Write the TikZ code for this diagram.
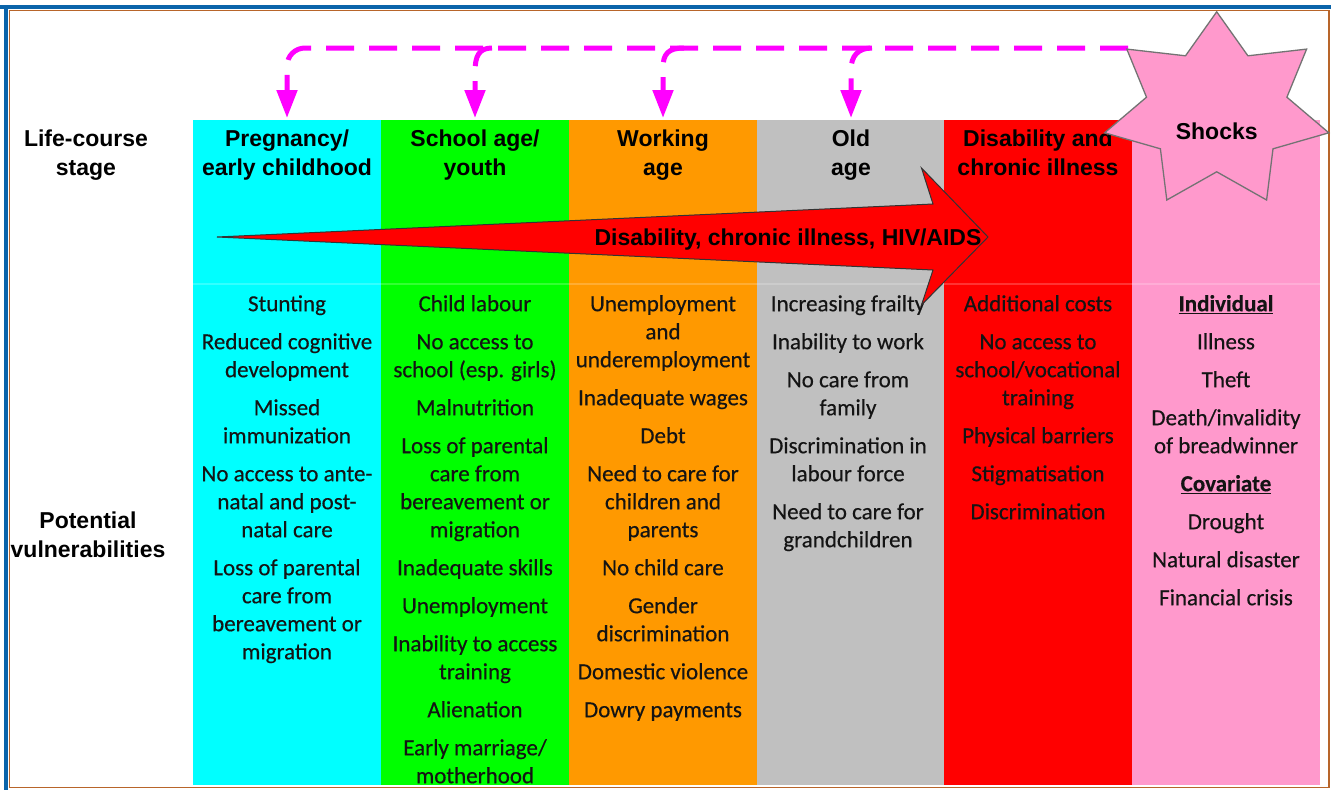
\documentclass[tikz,border=0pt]{standalone}
\usepackage{fontspec}
\setmainfont{Liberation Sans}
\newfontfamily\calib[FakeBold=0.4]{Carlito}
\usetikzlibrary{arrows.meta}

\definecolor{cyancol}{HTML}{00FFFF}
\definecolor{greencol}{HTML}{00FF00}
\definecolor{orangecol}{HTML}{FF9900}
\definecolor{greycol}{HTML}{C0C0C0}
\definecolor{redcol}{HTML}{FF0000}
\definecolor{pinkcol}{HTML}{FF99CC}
\definecolor{shockmag}{HTML}{FF00FF}
\definecolor{framebrown}{HTML}{B8652A}
\definecolor{frameblue}{HTML}{0A64AA}

% struts that fix the height of the first line of a stacked label
\newcommand\hstrut{\rule{0pt}{19pt}}
\newcommand\bstrut{\rule{0pt}{18pt}}

\begin{document}
\begin{tikzpicture}[x=1pt,y=-1pt,
  stagecol/.style={anchor=north west, inner sep=0, outer sep=0, draw=none,
    minimum width=188pt, minimum height=665pt},
  head/.style={font=\fontsize{23}{29}\selectfont\bfseries, align=center,
    inner sep=0, anchor=north, text=black},
  body/.style={font=\calib\fontsize{23}{28}\selectfont, align=center,
    inner sep=0, anchor=north, text=black!92},
  shockline/.style={draw=shockmag, line width=5pt, dash pattern=on 28pt off 15pt,
    -{Triangle[width=20pt,length=28pt]}, shorten >=2pt},
]
\useasboundingbox (0,0) rectangle (1331,790);
\fill[white] (0,0) rectangle (1331,790);

% frame
\draw[framebrown, line width=1.5pt] (9.5,10.5) rectangle (1329,787.5);
\draw[frameblue, line width=4pt] (0,7) -- (1331,7);
\draw[frameblue, line width=4pt] (6,7) -- (6,790);

% life-course columns
\node[stagecol, fill=cyancol]   (c1) at (193,120) {};
\node[stagecol, fill=greencol]  (c2) at (381,120) {};
\node[stagecol, fill=orangecol] (c3) at (569,120) {};
\node[stagecol, fill=greycol]   (c4) at (757,120) {};
\node[stagecol, fill=redcol]    (c5) at (944,120) {};
\node[stagecol, fill=pinkcol]   (c6) at (1132,120) {};
\draw[white, opacity=.2, line width=1.5pt] (193,284) -- (1320,284);

% vulnerabilities per stage
\node[body] (v1) at (287,293) {\bstrut Stunting\\[10pt]
  Reduced cognitive\\development\\[10pt]
  Missed\\immunization\\[10pt]
  No access to ante-\\natal and post-\\natal care\\[10pt]
  Loss of parental\\care from\\bereavement or\\migration};
\node[body] (v2) at (475,293) {\bstrut Child labour\\[10pt]
  No access to\\school (esp. girls)\\[10pt]
  Malnutrition\\[10pt]
  Loss of parental\\care from\\bereavement or\\migration\\[10pt]
  Inadequate skills\\[10pt]
  Unemployment\\[10pt]
  Inability to access\\training\\[10pt]
  Alienation\\[10pt]
  Early marriage/\\motherhood};
\node[body] (v3) at (663,293) {\bstrut Unemployment\\and\\underemployment\\[10pt]
  Inadequate wages\\[10pt]
  Debt\\[10pt]
  Need to care for\\children and\\parents\\[10pt]
  No child care\\[10pt]
  Gender\\discrimination\\[10pt]
  Domestic violence\\[10pt]
  Dowry payments};
\node[body] (v4) at (848,293) {\bstrut Increasing frailty\\[10pt]
  Inability to work\\[10pt]
  No care from\\family\\[10pt]
  Discrimination in\\labour force\\[10pt]
  Need to care for\\grandchildren};
\node[body] (v5) at (1038,293) {\bstrut Additional costs\\[10pt]
  No access to\\school/vocational\\training\\[10pt]
  Physical barriers\\[10pt]
  Stigmatisation\\[10pt]
  Discrimination};
\node[body] (v6) at (1226,293) {\bstrut\underline{\textbf{Individual}}\\[10pt]
  Illness\\[10pt]
  Theft\\[10pt]
  Death/invalidity\\of breadwinner\\[10pt]
  \underline{\textbf{Covariate}}\\[10pt]
  Drought\\[10pt]
  Natural disaster\\[10pt]
  Financial crisis};

% widening arrow across the stages
\draw[fill=redcol, draw=black!80, line width=1pt, line join=miter]
  (217,237) -- (933,204) -- (921.5,168) -- (988,237) -- (921.5,305) -- (933,270) -- cycle;
\node[head, anchor=base] (dis) at (788,245) {Disability, chronic illness, HIV/AIDS};

% stage headings
\node[head] (h1) at (287,127)  {\hstrut Pregnancy/\\early childhood};
\node[head] (h2) at (475,127)  {\hstrut School age/\\youth};
\node[head] (h3) at (663,127)  {\hstrut Working\\age};
\node[head] (h4) at (851,127)  {\hstrut Old\\age};
\node[head] (h5) at (1038,127) {\hstrut Disability and\\chronic illness};

% row labels
\node[head] (lcs) at (86,127) {\hstrut Life-course\\stage};
\node[head] (pv)  at (88,509) {\hstrut Potential\\vulnerabilities};

% shocks reaching every stage
\coordinate (skl) at (1128,48);
\coordinate (b2) at (492,48);
\coordinate (b3) at (684,48);
\coordinate (b4) at (872,48);
\draw[shockline, rounded corners=18pt] (skl) -| (c1.north);
\draw[shockline] (b2) .. controls (479,48) and (475,56) .. (475,72) -- (c2.north);
\draw[shockline] (b3) .. controls (668,48) and (663,54) .. (663,68) -- (c3.north);
\draw[shockline] (b4) .. controls (858,48) and (851,56) .. (851,70) -- (c4.north);

% seven-pointed star
\draw[fill=pinkcol, draw=black!55, line width=1.3pt, line join=miter]
  (1216.7,11.8) -- (1185.5,55.8) -- (1126.8,49.1) -- (1146.5,97.2)
  -- (1104.6,132.8) -- (1160.4,148.8) -- (1166.8,200.0) -- (1216.7,171.8)
  -- (1266.6,200.0) -- (1273.0,148.8) -- (1328.8,132.8) -- (1286.9,97.2)
  -- (1306.6,49.1) -- (1247.9,55.8) -- cycle;
\node[head, anchor=base] (shk) at (1216.7,139) {Shocks};
\end{tikzpicture}
\end{document}
